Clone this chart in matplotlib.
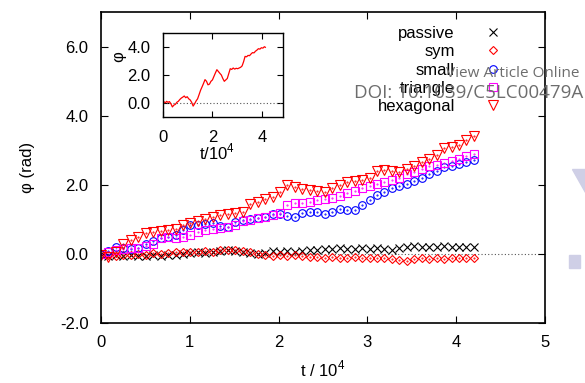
import numpy as np
import matplotlib
matplotlib.use('Agg')
from matplotlib import pyplot as plt
from matplotlib.patches import Polygon, Rectangle

## Data
t_main = np.round(np.arange(51) * 0.084, 3)

passive = [0.0, -0.05, -0.03, -0.06, -0.04, -0.07, -0.05, -0.03, -0.06, -0.02,
           -0.04, 0.0, 0.02, 0.05, 0.03, 0.06, 0.08, 0.12, 0.07, 0.04,
           0.02, 0.0, 0.03, 0.07, 0.05, 0.08, 0.04, 0.07, 0.10, 0.12,
           0.15, 0.13, 0.17, 0.15, 0.13, 0.16, 0.14, 0.18, 0.15, 0.12,
           0.16, 0.20, 0.22, 0.20, 0.21, 0.19, 0.22, 0.20, 0.21, 0.19, 0.20]
sym = [0.0, -0.03, -0.06, -0.04, -0.02, 0.0, -0.03, 0.02, 0.0, 0.03,
       0.05, 0.04, 0.06, 0.05, 0.08, 0.06, 0.10, 0.12, 0.10, 0.07,
       0.04, 0.0, -0.03, -0.05, -0.04, -0.06, -0.03, -0.05, -0.08, -0.10,
       -0.12, -0.10, -0.12, -0.12, -0.10, -0.12, -0.11, -0.13, -0.12, -0.14,
       -0.17, -0.20, -0.16, -0.13, -0.15, -0.12, -0.14, -0.12, -0.11, -0.13, -0.12]
small = [0.0, 0.08, 0.20, 0.18, 0.15, 0.18, 0.28, 0.38, 0.45, 0.50,
         0.56, 0.70, 0.84, 0.85, 0.86, 0.88, 0.82, 0.79, 0.92, 0.98,
         1.00, 1.03, 1.08, 1.15, 1.15, 1.10, 1.08, 1.18, 1.22, 1.20,
         1.15, 1.20, 1.30, 1.28, 1.27, 1.40, 1.55, 1.70, 1.80, 1.90,
         1.96, 2.02, 2.12, 2.20, 2.32, 2.40, 2.50, 2.55, 2.60, 2.65, 2.71]
triangle = [0.0, 0.05, 0.10, 0.15, 0.17, 0.18, 0.24, 0.30, 0.45, 0.48,
            0.47, 0.50, 0.55, 0.62, 0.68, 0.72, 0.75, 0.78, 0.85, 0.95,
            0.98, 1.05, 1.08, 1.12, 1.17, 1.40, 1.46, 1.48, 1.50, 1.55,
            1.60, 1.62, 1.68, 1.75, 1.82, 1.90, 1.95, 2.02, 2.08, 2.15,
            2.20, 2.30, 2.36, 2.45, 2.55, 2.58, 2.62, 2.70, 2.76, 2.84, 2.90]
hexagonal = [-0.02, -0.08, 0.05, 0.30, 0.40, 0.48, 0.60, 0.62, 0.65, 0.68,
             0.72, 0.85, 0.90, 0.95, 1.00, 1.08, 1.13, 1.15, 1.18, 1.20,
             1.45, 1.50, 1.58, 1.65, 1.78, 1.98, 1.93, 1.88, 1.85, 1.82,
             1.80, 1.90, 2.00, 2.08, 2.12, 2.15, 2.20, 2.40, 2.42, 2.40,
             2.38, 2.47, 2.55, 2.66, 2.75, 2.85, 3.05, 3.10, 3.15, 3.30, 3.40]

# inset trajectory
t_inset = [0.00, 0.05, 0.10, 0.15, 0.20, 0.26, 0.32, 0.38, 0.44, 0.50,
           0.56, 0.62, 0.68, 0.74, 0.80, 0.86, 0.92, 0.98, 1.04, 1.10,
           1.16, 1.22, 1.28, 1.34, 1.40, 1.46, 1.52, 1.58, 1.64, 1.70,
           1.76, 1.82, 1.88, 1.94, 2.00, 2.06, 2.12, 2.18, 2.24, 2.30,
           2.36, 2.42, 2.48, 2.54, 2.60, 2.66, 2.72, 2.78, 2.84, 2.90,
           2.96, 3.02, 3.08, 3.14, 3.20, 3.26, 3.32, 3.38, 3.44, 3.50,
           3.56, 3.62, 3.68, 3.74, 3.80, 3.86, 3.92, 3.98, 4.04, 4.10, 4.14]
phi_inset = [0.0, 0.08, 0.02, 0.12, 0.05, 0.10, -0.05, -0.28, -0.15, -0.10,
             0.05, 0.12, 0.25, 0.35, 0.42, 0.50, 0.38, 0.45, 0.30, 0.22,
             0.05, -0.22, -0.05, 0.15, 0.30, 0.60, 0.91, 1.15, 1.40, 1.67,
             1.55, 1.30, 1.35, 1.55, 1.65, 1.90, 2.15, 2.38, 2.25, 2.12,
             2.00, 1.75, 1.55, 1.65, 1.75, 2.10, 2.45, 2.40, 2.50, 2.42,
             2.48, 2.45, 2.50, 2.55, 2.65, 2.95, 3.33, 3.30, 3.40, 3.38,
             3.50, 3.60, 3.58, 3.70, 3.78, 3.88, 3.85, 3.95, 3.92, 4.02, 3.98]

series = [
    ('passive', passive, 'x', 'black', 5.5),
    ('sym', sym, 'D', 'red', 4),
    ('small', small, 'o', 'blue', 5.5),
    ('triangle', triangle, 's', 'magenta', 6),
    ('hexagonal', hexagonal, 'v', 'red', 6.5),
]

plt.rcParams['font.family'] = ['Liberation Sans', 'DejaVu Sans']
plt.rcParams['mathtext.fontset'] = 'custom'
plt.rcParams['mathtext.rm'] = 'Liberation Sans'

fig = plt.figure(figsize=(5.85, 3.83), dpi=100)
ax = fig.add_axes([0.1726, 0.1567, 0.759, 0.812])

ax.axhline(0, color='#555555', ls=(0, (1, 2)), lw=0.8, zorder=1)
for name, vals, mk, col, ms in series:
    ax.plot(t_main, vals, ls='none', marker=mk, ms=ms, mfc='none',
            mec=col, mew=0.8, label=name, zorder=2)
    if mk != 'x':
        ax.plot(t_main, vals, ls='none', marker='.', ms=1, color=col, zorder=2)

ax.set_xlim(0, 5)
ax.set_ylim(-2, 7)
ax.set_xticks([0, 1, 2, 3, 4, 5])
ax.set_yticks([-2, 0, 2, 4, 6])
ax.set_yticklabels(['-2.0', '0.0', '2.0', '4.0', '6.0'])
ax.tick_params(direction='in', top=True, right=True, length=5, width=0.8,
               labelsize=12, pad=9)
for s in ax.spines.values():
    s.set_linewidth(1.2)
ax.set_xlabel('t / 10$^4$', fontsize=12, labelpad=6)
ax.set_ylabel('φ (rad)', fontsize=12, labelpad=18)

leg = ax.legend(loc='upper right', bbox_to_anchor=(0.921, 0.955),
                markerfirst=False, frameon=False, fontsize=12,
                handletextpad=1.3, labelspacing=0.2, borderaxespad=0,
                borderpad=0, numpoints=1)

## Inset
axin = fig.add_axes([0.2786, 0.6945, 0.205, 0.2193])
axin.axhline(0, color='#555555', ls=(0, (1, 2)), lw=0.8)
axin.plot(t_inset, phi_inset, color='red', lw=0.9)
axin.set_xlim(0, 4.85)
axin.set_ylim(-1, 5)
axin.set_xticks([0, 2, 4])
axin.set_yticks([0, 2, 4])
axin.set_yticklabels(['0.0', '2.0', '4.0'])
axin.tick_params(direction='in', top=True, right=True, length=4, width=0.8,
                 labelsize=12, pad=9)
for s in axin.spines.values():
    s.set_linewidth(1.0)
axin.set_xlabel('t/10$^4$', fontsize=12)
axin.xaxis.set_label_coords(0.45, -0.29, transform=axin.transAxes)
axin.xaxis.label.set_va('top')
axin.set_ylabel('φ', fontsize=12)
axin.yaxis.set_label_coords(-0.31, 0.72)

## Watermark
fig.text(0.99, 0.807, 'View Article Online', ha='right', va='center',
         fontsize=11, color='#6d6d6d', family='Open Sans')
fig.text(0.997, 0.757, 'DOI: 10.1039/C5LC00479A', ha='right', va='center',
         fontsize=13.5, color='#6d6d6d', family='Open Sans')
fig.patches.append(Polygon([[0.978, 0.56], [1.0, 0.56], [1.0, 0.50]], closed=True,
                           transform=fig.transFigure, color='#cfcfe6', zorder=0))
fig.patches.append(Rectangle((0.972, 0.30), 0.02, 0.034,
                             transform=fig.transFigure, color='#cfcfe6', zorder=0))

fig.savefig('out.png', dpi=100)
